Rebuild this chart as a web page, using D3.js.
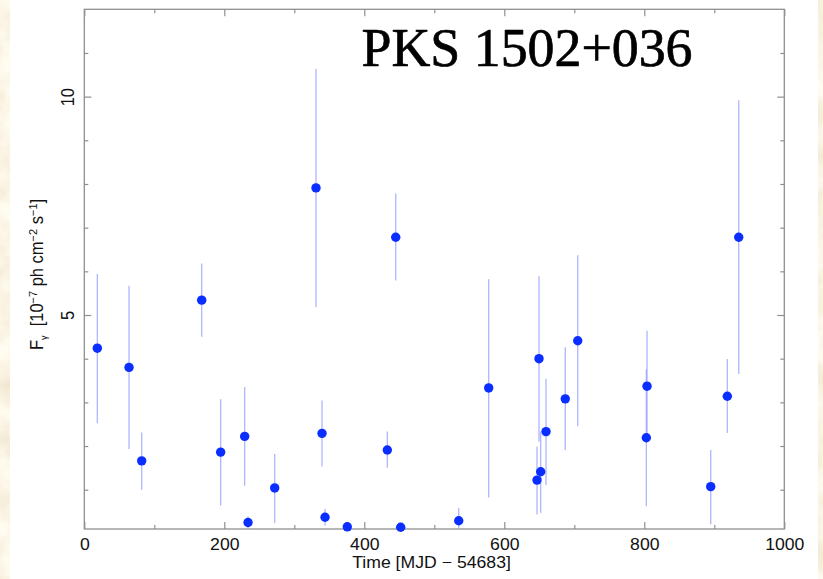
<!DOCTYPE html>
<html>
<head>
<meta charset="utf-8">
<script src="https://cdn.jsdelivr.net/npm/d3@7"></script>
<style>
  html, body { margin: 0; padding: 0; background: #fff; }
  svg { display: block; }
</style>
</head>
<body>
<svg id="chart" width="823" height="579"></svg>
<script>
// Gamma-ray light curve of PKS 1502+036: flux per time bin with 1-sigma bars
const time   = [18.6, 63.9, 82.0, 167.7, 194.8, 229.1, 233.9, 272.0, 331.0, 339.6,
                343.9, 375.7, 432.9, 444.9, 452.0, 534.9, 577.7, 646.7, 649.6, 652.0,
                659.6, 687.1, 704.9, 802.9, 803.9, 894.9, 918.6, 934.9];
const flux   = [4.24, 3.80, 1.66, 5.34, 1.86, 2.22, 0.25, 1.04, 7.91, 2.29,
                0.37, 0.15, 1.91, 6.78, 0.14, 0.29, 3.33, 1.22, 4.00, 1.41,
                2.33, 3.08, 4.41, 2.19, 3.37, 1.07, 3.14, 6.78];
const fluxHi = [5.94, 5.67, 2.31, 6.18, 3.07, 3.35, 0.39, 1.82, 10.64, 3.04,
                0.56, 0.22, 2.33, 7.78, 0.20, 0.58, 5.82, 1.99, 5.89, 2.33,
                3.54, 4.26, 6.37, 3.76, 4.64, 1.91, 3.99, 9.92];
const fluxLo = [2.52, 1.93, 1.00, 4.50, 0.64, 1.09, 0.05, 0.24, 5.18, 1.53,
                0.18, 0.08, 1.50, 5.79, 0.08, 0.05, 0.82, 0.43, 2.10, 0.47,
                1.11, 1.91, 2.45, 0.62, 2.11, 0.21, 2.30, 3.65];

const xMajor = [0, 200, 400, 600, 800, 1000];
const xMinor = [100, 300, 500, 700, 900];
const yMajor = [5, 10];
const yMinor = [1, 2, 3, 4, 6, 7, 8, 9, 11];

const sourceName = "PKS 1502+036";
const xTitle = "Time [MJD \u2212 54683]";

const W = 823, H = 579;
const margin = { left: 84.3, top: 9.3, right: 38.7, bottom: 50 };
const innerW = W - margin.left - margin.right;
const innerH = H - margin.top - margin.bottom;

const svg = d3.select("#chart");
const sans = "'Liberation Sans', Arial, Helvetica, sans-serif";
const labelSize = 16.5;
const stretch = "scale(1.07,1)";

// parchment texture behind the white sheet
const defs = svg.append("defs");
const paper = defs.append("filter").attr("id", "paper")
  .attr("x", 0).attr("y", 0).attr("width", "100%").attr("height", "100%");
paper.append("feTurbulence").attr("type", "fractalNoise")
  .attr("baseFrequency", 0.035).attr("numOctaves", 4).attr("seed", 7);
paper.append("feColorMatrix").attr("type", "matrix").attr("values",
  "0.22 0 0 0 0.85  0.28 0 0 0 0.77  0.40 0 0 0 0.58  0 0 0 0 1");
defs.append("clipPath").attr("id", "plotClip").append("rect")
  .attr("width", innerW).attr("height", innerH);

svg.append("rect").attr("width", W).attr("height", H).attr("filter", "url(#paper)");
svg.append("rect").attr("x", 10).attr("y", 0).attr("width", 808).attr("height", H)
  .attr("fill", "#ffffff");

const x = d3.scaleLinear().domain([0, 1000]).range([0, innerW]);
const y = d3.scaleLinear().domain([0.1, 12]).range([innerH, 0]);

const g = svg.append("g").attr("transform", `translate(${margin.left},${margin.top})`);

const axisColor = "#8f8f8f";
function styleAxis(sel) {
  sel.select(".domain").remove();
  sel.selectAll(".tick line").attr("stroke", axisColor).attr("stroke-width", 1.2);
}

// minor ticks on all four sides
g.append("g").attr("transform", `translate(0,${innerH})`)
  .call(d3.axisBottom(x).tickValues(xMinor).tickSize(-4).tickFormat(""))
  .call(styleAxis);
g.append("g")
  .call(d3.axisTop(x).tickValues(xMinor).tickSize(-4).tickFormat(""))
  .call(styleAxis);
g.append("g")
  .call(d3.axisLeft(y).tickValues(yMinor).tickSize(-4).tickFormat(""))
  .call(styleAxis);
g.append("g").attr("transform", `translate(${innerW},0)`)
  .call(d3.axisRight(y).tickValues(yMinor).tickSize(-4).tickFormat(""))
  .call(styleAxis);

// major ticks
const xAxis = g.append("g").attr("transform", `translate(0,${innerH})`)
  .call(d3.axisBottom(x).tickValues(xMajor).tickSize(-7).tickPadding(0).tickFormat(d3.format("d")))
  .call(styleAxis);
xAxis.selectAll(".tick text")
  .attr("y", null).attr("dy", null)
  .attr("transform", `translate(0,21) ${stretch}`)
  .attr("font-family", sans).attr("font-size", labelSize).attr("fill", "#111");
g.append("g")
  .call(d3.axisTop(x).tickValues(xMajor).tickSize(-7).tickFormat(""))
  .call(styleAxis);

const yAxis = g.append("g")
  .call(d3.axisLeft(y).tickValues(yMajor).tickSize(-7).tickFormat(d3.format("d")))
  .call(styleAxis);
yAxis.selectAll(".tick text")
  .attr("x", null).attr("dy", null)
  .attr("text-anchor", "middle")
  .attr("transform", `translate(-10.3,0) ${stretch} rotate(-90)`)
  .attr("font-family", sans).attr("font-size", labelSize).attr("fill", "#111");
g.append("g").attr("transform", `translate(${innerW},0)`)
  .call(d3.axisRight(y).tickValues(yMajor).tickSize(-7).tickFormat(""))
  .call(styleAxis);

// frame
g.append("rect").attr("width", innerW).attr("height", innerH)
  .attr("fill", "none").attr("stroke", axisColor).attr("stroke-width", 1.3);

// error bars
const idx = d3.range(time.length);
g.append("g").attr("clip-path", "url(#plotClip)")
  .selectAll("line").data(idx).join("line")
  .attr("x1", i => x(time[i])).attr("x2", i => x(time[i]))
  .attr("y1", i => y(fluxHi[i])).attr("y2", i => y(fluxLo[i]))
  .attr("stroke", "#98a4ff").attr("stroke-opacity", 0.8).attr("stroke-width", 1.3);

// flux points
g.append("g").selectAll("circle").data(idx).join("circle")
  .attr("cx", i => x(time[i])).attr("cy", i => y(flux[i]))
  .attr("r", 4.7).attr("fill", "#0a2eff");

// source name
svg.append("text")
  .attr("x", 361.5).attr("y", 65.5)
  .attr("textLength", 331).attr("lengthAdjust", "spacingAndGlyphs")
  .attr("font-family", "'Liberation Serif', 'Times New Roman', Times, serif")
  .attr("font-size", 54).attr("fill", "#000")
  .attr("stroke", "#000").attr("stroke-width", 0.7).attr("stroke-linejoin", "round")
  .text(sourceName);

// x title
svg.append("text")
  .attr("transform", `translate(431.5,568.3) ${stretch}`)
  .attr("text-anchor", "middle")
  .attr("font-family", sans).attr("font-size", labelSize).attr("fill", "#111")
  .text(xTitle);

// y title with sub/superscripts
const yt = svg.append("text")
  .attr("transform", `translate(43,274.5) ${stretch} rotate(-90)`)
  .attr("text-anchor", "middle")
  .attr("font-family", sans).attr("font-size", labelSize).attr("fill", "#111")
  .style("white-space", "pre");
const parts = [
  ["F", 0, labelSize], ["\u03b3", 4, 9], ["  [10", -4, labelSize], ["\u22127", -6, 11],
  [" ph cm", 6, labelSize], ["\u22122", -6, 11], [" s", 6, labelSize], ["\u22121", -6, 11], ["]", 6, labelSize]
];
parts.forEach(([t, dy, fs]) => {
  yt.append("tspan").attr("dy", dy).attr("font-size", fs).text(t);
});
</script>
</body>
</html>
